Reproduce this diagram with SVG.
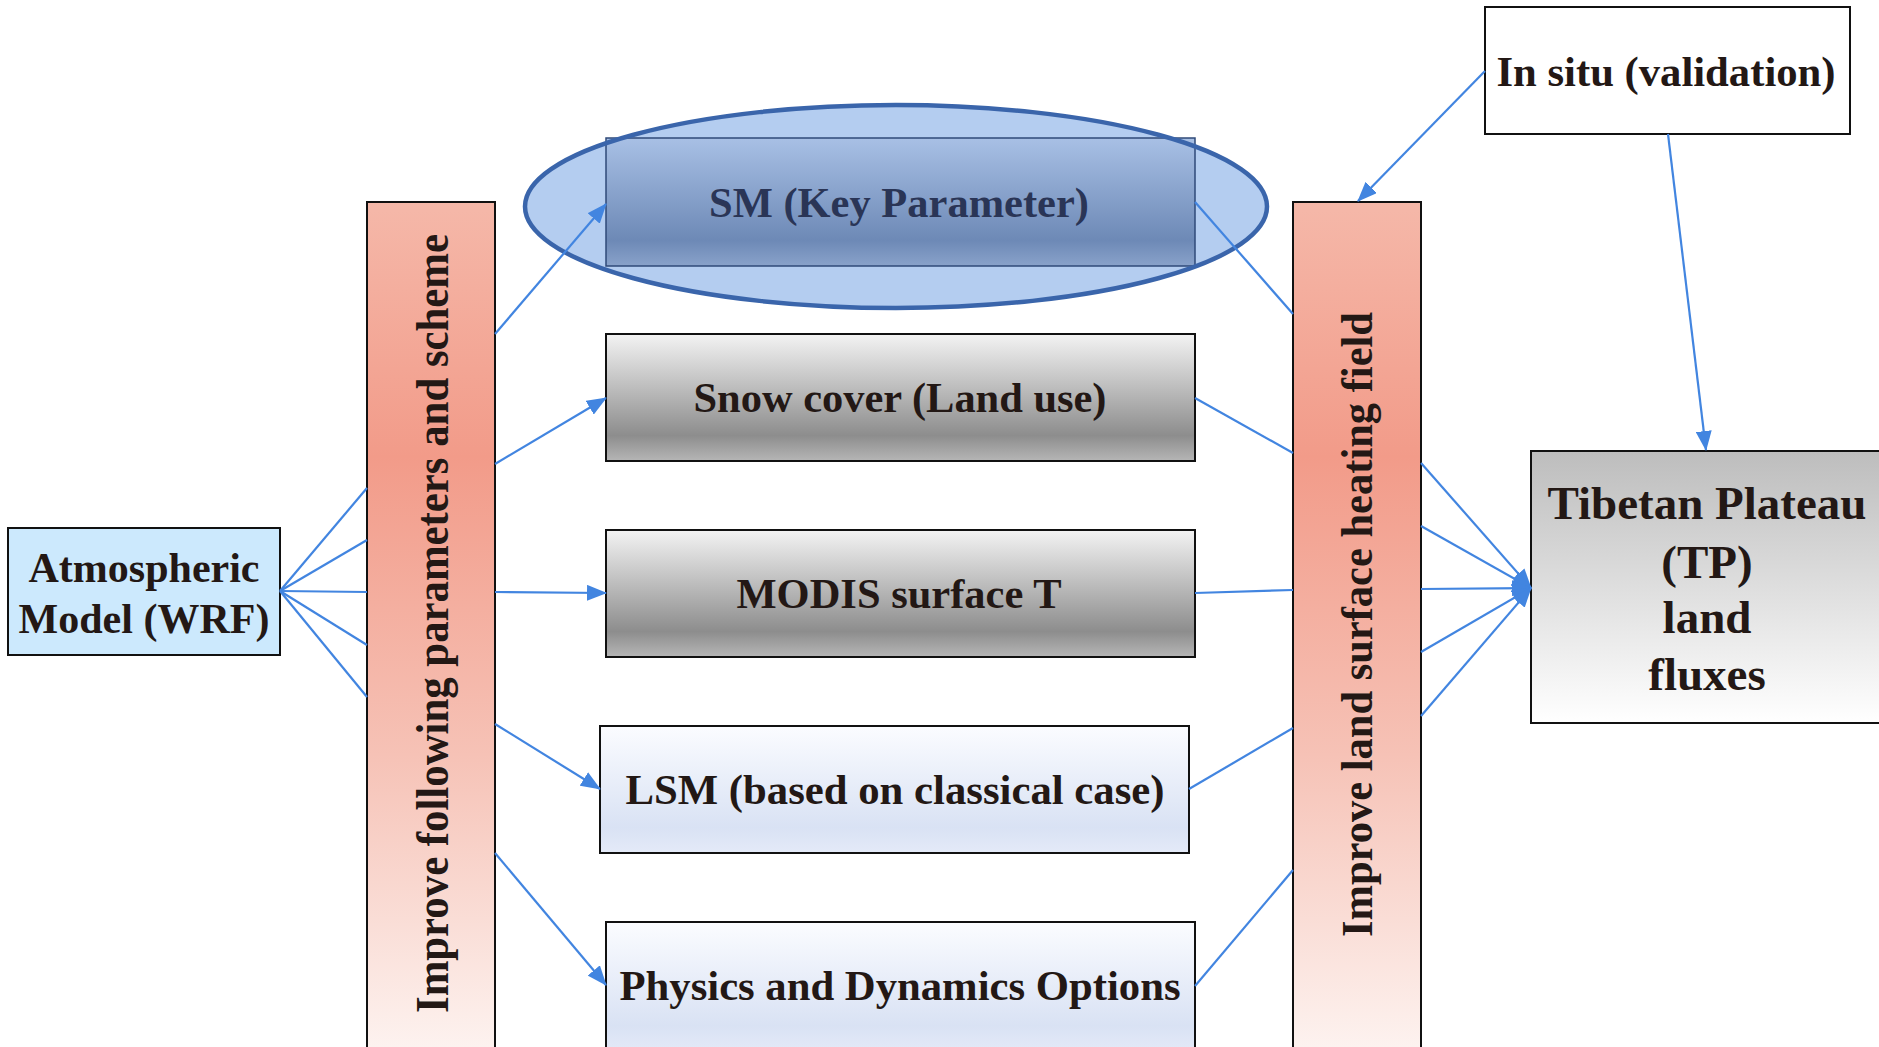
<svg xmlns="http://www.w3.org/2000/svg" width="1879" height="1047" viewBox="0 0 1879 1047">
<style>
.box{stroke:#111;stroke-width:2}
.t{font-family:"Liberation Serif","Times New Roman",serif;font-weight:bold;fill:#231815;text-anchor:middle}
.c{stroke:#4285e0;stroke-width:2.2;fill:none}
.ca{stroke:#4285e0;stroke-width:2.2;fill:none;marker-end:url(#arr)}
</style>
<defs>
<marker id="arr" markerUnits="userSpaceOnUse" markerWidth="20" markerHeight="16" viewBox="0 0 20 16" refX="19" refY="8" orient="auto">
<path d="M0,0 L20,8 L0,16 Z" fill="#4285e0"/>
</marker>
<linearGradient id="gBar" x1="0" y1="0" x2="0" y2="1">
<stop offset="0" stop-color="#f5b8a9"/>
<stop offset="0.3" stop-color="#f29b89"/>
<stop offset="0.65" stop-color="#f6c2b6"/>
<stop offset="1" stop-color="#fdf3f0"/>
</linearGradient>
<linearGradient id="gGray" x1="0" y1="0" x2="0" y2="1">
<stop offset="0" stop-color="#f3f3f3"/>
<stop offset="0.8" stop-color="#8d8d8d"/>
<stop offset="1" stop-color="#b6b6b6"/>
</linearGradient>
<linearGradient id="gSM" x1="0" y1="0" x2="0" y2="1">
<stop offset="0" stop-color="#a8c0e5"/>
<stop offset="0.8" stop-color="#6d89b6"/>
<stop offset="1" stop-color="#89a2ca"/>
</linearGradient>
<linearGradient id="gLight" x1="0" y1="0" x2="0" y2="1">
<stop offset="0" stop-color="#fbfcff"/>
<stop offset="0.8" stop-color="#d9e2f4"/>
<stop offset="1" stop-color="#e4eaf8"/>
</linearGradient>
<linearGradient id="gTP" x1="0" y1="0" x2="0" y2="1">
<stop offset="0" stop-color="#bdbdbd"/>
<stop offset="1" stop-color="#ffffff"/>
</linearGradient>
</defs>

<g id="atmospheric">
<rect class="box" x="8" y="528" width="272" height="127" fill="#cce9fd"/>
<text class="t" x="144" y="582" font-size="42">Atmospheric</text>
<text class="t" x="144" y="633" font-size="42">Model (WRF)</text>
</g>

<g id="left-bar">
<rect class="box" x="367" y="202" width="128" height="850" fill="url(#gBar)"/>
<text class="t" transform="translate(448,623.5) rotate(-90)" font-size="46" textLength="779" lengthAdjust="spacingAndGlyphs">Improve following parameters and scheme</text>
</g>

<g id="sm">
<ellipse cx="896" cy="206.5" rx="371" ry="101.5" fill="#b4cdf0"/>
<rect x="606" y="138" width="589" height="128" fill="url(#gSM)" stroke="#2f4a78" stroke-width="1.5"/>
<text class="t" x="899" y="217" font-size="42" fill="#2a3556" style="fill:#2a3556" textLength="380" lengthAdjust="spacingAndGlyphs">SM (Key Parameter)</text>
<ellipse cx="896" cy="206.5" rx="371" ry="101.5" fill="none" stroke="#3a65ab" stroke-width="4.5"/>
</g>

<g id="snow">
<rect class="box" x="606" y="334" width="589" height="127" fill="url(#gGray)"/>
<text class="t" x="900" y="412" font-size="42" textLength="413" lengthAdjust="spacingAndGlyphs">Snow cover (Land use)</text>
</g>

<g id="modis">
<rect class="box" x="606" y="530" width="589" height="127" fill="url(#gGray)"/>
<text class="t" x="899" y="608" font-size="42" textLength="325" lengthAdjust="spacingAndGlyphs">MODIS surface T</text>
</g>

<g id="lsm">
<rect class="box" x="600" y="726" width="589" height="127" fill="url(#gLight)"/>
<text class="t" x="895" y="804" font-size="42" textLength="539" lengthAdjust="spacingAndGlyphs">LSM (based on classical case)</text>
</g>

<g id="physics">
<rect class="box" x="606" y="922" width="589" height="130" fill="url(#gLight)"/>
<text class="t" x="900" y="1000" font-size="42" textLength="561" lengthAdjust="spacingAndGlyphs">Physics and Dynamics Options</text>
</g>

<g id="right-bar">
<rect class="box" x="1293" y="202" width="128" height="850" fill="url(#gBar)"/>
<text class="t" transform="translate(1372,624.5) rotate(-90)" font-size="44" textLength="625" lengthAdjust="spacingAndGlyphs">Improve land surface heating field</text>
</g>

<g id="in-situ">
<rect class="box" x="1485" y="7" width="365" height="127" fill="#ffffff"/>
<text class="t" x="1666" y="86" font-size="42" textLength="339" lengthAdjust="spacingAndGlyphs">In situ (validation)</text>
</g>

<g id="tibetan">
<rect class="box" x="1531" y="451" width="360" height="272" fill="url(#gTP)"/>
<text class="t" x="1707" y="519" font-size="47">Tibetan Plateau</text>
<text class="t" x="1707" y="578" font-size="47">(TP)</text>
<text class="t" x="1707" y="633" font-size="47">land</text>
<text class="t" x="1707" y="690" font-size="47">fluxes</text>
</g>

<g id="connectors">
<line class="c" x1="280" y1="591" x2="367" y2="488"/>
<line class="c" x1="280" y1="591" x2="367" y2="540"/>
<line class="c" x1="280" y1="591" x2="367" y2="592"/>
<line class="c" x1="280" y1="591" x2="367" y2="645"/>
<line class="c" x1="280" y1="591" x2="367" y2="697"/>

<line class="ca" x1="495" y1="334" x2="606" y2="204"/>
<line class="ca" x1="495" y1="464" x2="606" y2="398"/>
<line class="ca" x1="495" y1="592" x2="606" y2="593"/>
<line class="ca" x1="495" y1="724" x2="600" y2="789"/>
<line class="ca" x1="495" y1="853" x2="606" y2="985"/>

<line class="c" x1="1195" y1="202" x2="1293" y2="314"/>
<line class="c" x1="1195" y1="398" x2="1293" y2="453"/>
<line class="c" x1="1195" y1="593" x2="1293" y2="590"/>
<line class="c" x1="1189" y1="789" x2="1293" y2="728"/>
<line class="c" x1="1195" y1="986" x2="1293" y2="870"/>

<line class="ca" x1="1421" y1="463" x2="1531" y2="588"/>
<line class="ca" x1="1421" y1="526" x2="1531" y2="588"/>
<line class="ca" x1="1421" y1="589" x2="1531" y2="588"/>
<line class="ca" x1="1421" y1="652" x2="1531" y2="588"/>
<line class="ca" x1="1421" y1="716" x2="1531" y2="588"/>

<line class="ca" x1="1485" y1="71" x2="1358" y2="201"/>
<line class="ca" x1="1668" y1="134" x2="1706" y2="450"/>
</g>
</svg>
